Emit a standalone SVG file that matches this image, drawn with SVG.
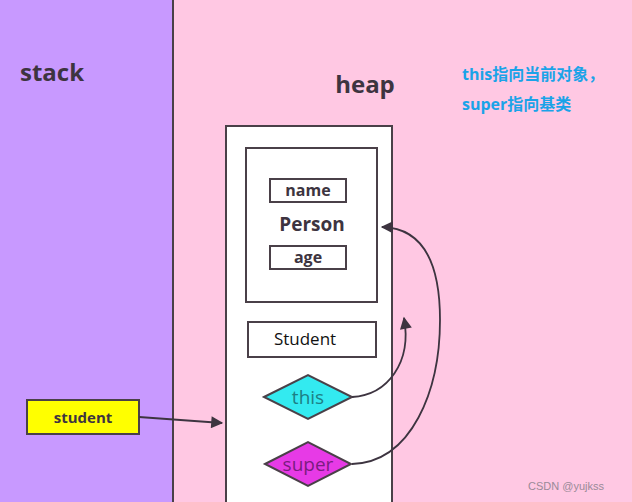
<svg xmlns="http://www.w3.org/2000/svg" width="632" height="502" viewBox="0 0 632 502">
<defs>
<style>
.b{fill:#fff;stroke:#4a4048;stroke-width:2}
.t{font-family:"Open Sans","Noto Sans",sans-serif;font-weight:bold;fill:#3d3440;text-anchor:middle}
.c{fill:none;stroke:#3d3440;stroke-width:1.8}
.n{font-family:"Open Sans","Noto Sans","Noto Sans CJK SC",sans-serif;font-weight:bold;fill:#1aa3e8;font-size:16px}
</style>
<marker id="ah2" viewBox="0 0 10 10" refX="9" refY="5" markerWidth="14" markerHeight="12" orient="auto" markerUnits="userSpaceOnUse">
<path d="M0,0 L10,5 L0,10 z" fill="#3d3440"/>
</marker>
</defs>
<rect x="0" y="0" width="632" height="502" fill="#ffc8e3"/>
<g id="stack">
<rect x="0" y="0" width="173" height="502" fill="#c899ff"/>
<line x1="173" y1="0" x2="173" y2="502" stroke="#4a4048" stroke-width="2"/>
<text x="52" y="81" class="t" font-size="24">stack</text>
</g>
<text x="365" y="93" class="t" font-size="24">heap</text>
<g id="note">
<text x="462" y="80" class="n">this指向当前对象，</text>
<text x="462" y="110" class="n">super指向基类</text>
</g>
<g id="heapobj">
<rect x="226" y="126" width="166" height="390" class="b"/>
</g>
<g id="person">
<rect x="246" y="148" width="131" height="154" class="b"/>
<text x="312" y="231" class="t" font-size="19">Person</text>
</g>
<g id="name">
<rect x="270" y="179" width="76" height="23" class="b"/>
<text x="308" y="196" class="t" font-size="16">name</text>
</g>
<g id="age">
<rect x="270" y="246" width="76" height="23" class="b"/>
<text x="308" y="263" class="t" font-size="16">age</text>
</g>
<g id="studentcls">
<rect x="248" y="322" width="128" height="35" class="b"/>
<text x="305" y="345" font-family="Open Sans,Noto Sans,sans-serif" font-size="17" fill="#111" text-anchor="middle">Student</text>
</g>
<g id="this">
<polygon points="264,397 308,375 352,397 308,419" fill="#33eaf0" stroke="#4a4048" stroke-width="2"/>
<text x="308" y="404" font-family="Open Sans,Noto Sans,sans-serif" font-size="19" fill="#1d7f85" text-anchor="middle">this</text>
</g>
<g id="super">
<polygon points="265,464 308,442 351,464 308,486" fill="#e73ae6" stroke="#4a4048" stroke-width="2"/>
<text x="308" y="471" font-family="Open Sans,Noto Sans,sans-serif" font-size="19" fill="#7a1c80" text-anchor="middle">super</text>
</g>
<g id="studentvar">
<rect x="27" y="400" width="112" height="34" fill="#ffff00" stroke="#4a4048" stroke-width="2"/>
<text x="83" y="423" class="t" font-size="15">student</text>
</g>
<g id="connectors">
<path d="M139,417 L222,423" class="c" marker-end="url(#ah2)"/>
<path d="M352,397 C388,395 412,362 404,318" class="c" marker-end="url(#ah2)"/>
<path d="M352,464 C412,462 440,390 440,320 C440,262 422,228 382,227" class="c" marker-end="url(#ah2)"/>
</g>
<text x="528" y="490" font-family="Liberation Sans,Arial,sans-serif" font-size="11" fill="#9a8a98">CSDN @yujkss</text>
</svg>
